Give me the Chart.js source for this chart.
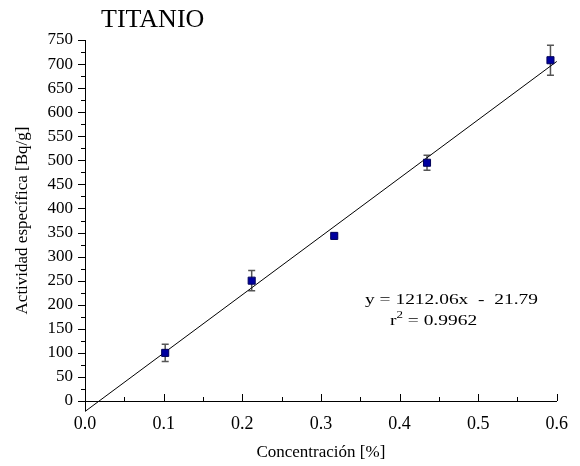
<!DOCTYPE html>
<html>
<head>
<meta charset="utf-8">
<script src="https://cdn.jsdelivr.net/npm/chart.js@4/dist/chart.umd.min.js"></script>
<style>
  html, body { margin: 0; padding: 0; background: #fff; }
  #c { display: block; }
</style>
</head>
<body>
<canvas id="c" width="580" height="466"></canvas>
<script>
// ---- data ----
const concentracion = [0.102, 0.212, 0.317, 0.435, 0.592];      // %
const actividad     = [100, 250, 343, 495, 708];                // Bq/g
const errorActividad = [18, 21, 3, 15.5, 31];                   // ± Bq/g
const ajusteX = [0, 0.6];                                       // fit line ends
const ajusteY = [-21.79, 705.45];                               // y = 1212.06x - 21.79
const xTicks = [0.0, 0.1, 0.2, 0.3, 0.4, 0.5, 0.6];
const yTicks = [0, 50, 100, 150, 200, 250, 300, 350, 400, 450, 500, 550, 600, 650, 700, 750];
const titulo = 'TITANIO';
const ecuacion = 'y = 1212.06x  -  21.79';
const r2Texto = ' = 0.9962';

const SERIF = "'Liberation Serif', serif";

const puntos = concentracion.map((x, i) => ({ x: x, y: actividad[i] }));
const ajuste = ajusteX.map((x, i) => ({ x: x, y: ajusteY[i] }));

const extras = {
  id: 'extras',
  beforeDatasetsDraw(chart) {
    const ctx = chart.ctx;
    const xs = chart.scales.x, ys = chart.scales.y;
    const bot = ys.getPixelForValue(0);
    const left = xs.getPixelForValue(0);
    ctx.save();
    ctx.strokeStyle = '#000';
    ctx.lineWidth = 1;
    // y ticks (outside, left): major every 50, minor every 25
    for (let v = 0; v <= 750; v += 25) {
      const y = Math.round(ys.getPixelForValue(v)) + 0.5;
      const len = (v % 50 === 0) ? 7 : 4;
      ctx.beginPath(); ctx.moveTo(left - len, y); ctx.lineTo(left, y); ctx.stroke();
    }
    // x ticks (inside, upward): major every 0.1, minor every 0.05
    for (let k = 0; k <= 12; k++) {
      const v = k * 0.05;
      const x = Math.round(xs.getPixelForValue(v)) + 0.5;
      const len = (k % 2 === 0) ? 7 : 4;
      ctx.beginPath(); ctx.moveTo(x, bot); ctx.lineTo(x, bot - len); ctx.stroke();
    }
    // small extension of the y axis below the x axis
    ctx.beginPath(); ctx.moveTo(Math.round(left) + 0.5, bot); ctx.lineTo(Math.round(left) + 0.5, bot + 10); ctx.stroke();

    // error bars
    ctx.strokeStyle = '#555';
    ctx.lineWidth = 1.5;
    concentracion.forEach((c, i) => {
      const x = xs.getPixelForValue(c);
      const y1 = ys.getPixelForValue(actividad[i] + errorActividad[i]);
      const y2 = ys.getPixelForValue(actividad[i] - errorActividad[i]);
      ctx.beginPath();
      ctx.moveTo(x, y1); ctx.lineTo(x, y2);
      ctx.moveTo(x - 3.5, y1); ctx.lineTo(x + 3.5, y1);
      ctx.moveTo(x - 3.5, y2); ctx.lineTo(x + 3.5, y2);
      ctx.stroke();
    });
    ctx.restore();
  },
  afterDraw(chart) {
    const ctx = chart.ctx;
    ctx.save();
    ctx.fillStyle = '#000';
    ctx.textBaseline = 'alphabetic';
    ctx.textAlign = 'left';
    // title
    ctx.font = '26px ' + SERIF;
    ctx.fillText(titulo, 101, 27);

    // equation (horizontally widened like the reference)
    ctx.font = '15px ' + SERIF;
    const w1 = ctx.measureText(ecuacion).width;
    const sx = 173 / w1;
    ctx.save();
    ctx.translate(365, 304);
    ctx.scale(sx, 1);
    ctx.fillText(ecuacion, 0, 0);
    ctx.restore();

    ctx.save();
    ctx.translate(390, 325);
    ctx.scale(sx, 1);
    ctx.fillText('r', 0, 0);
    const wr = ctx.measureText('r').width;
    ctx.font = '10px ' + SERIF;
    ctx.fillText('2', wr, -7);
    const w2 = ctx.measureText('2').width;
    ctx.font = '15px ' + SERIF;
    ctx.fillText(r2Texto, wr + w2, 0);
    ctx.restore();
    ctx.restore();
  }
};

new Chart(document.getElementById('c'), {
  type: 'scatter',
  data: {
    datasets: [
      {
        label: 'Actividad',
        data: puntos,
        pointStyle: 'rect',
        pointRadius: 5,
        pointHoverRadius: 5,
        backgroundColor: '#0000A0',
        borderColor: '#00005a',
        borderWidth: 1
      },
      {
        label: 'Ajuste',
        data: ajuste,
        showLine: true,
        borderColor: '#000',
        borderWidth: 1,
        pointRadius: 0,
        pointHoverRadius: 0,
        fill: false,
        clip: false
      }
    ]
  },
  options: {
    responsive: false,
    animation: false,
    devicePixelRatio: 1,
    layout: { padding: { top: 40, right: 20, left: 0, bottom: 0 } },
    plugins: {
      legend: { display: false },
      tooltip: { enabled: false },
      title: { display: false }
    },
    scales: {
      x: {
        type: 'linear',
        min: 0, max: 0.6,
        afterBuildTicks(s) { s.ticks = xTicks.map(v => ({ value: v })); },
        afterFit(s) { s.height = 65; },
        grid: { display: false, drawTicks: false },
        border: { display: true, color: '#000', width: 1 },
        ticks: {
          padding: 12,
          color: '#000',
          font: { family: SERIF, size: 18 },
          maxRotation: 0,
          callback: v => Number(v).toFixed(1)
        },
        title: {
          display: true,
          text: 'Concentración [%]',
          color: '#000',
          font: { family: SERIF, size: 17 },
          padding: { top: 0, bottom: 3 }
        }
      },
      y: {
        type: 'linear',
        min: 0, max: 750,
        afterBuildTicks(s) { s.ticks = yTicks.map(v => ({ value: v })); },
        afterFit(s) { s.width = 85; },
        grid: { display: false, drawTicks: false },
        border: { display: true, color: '#000', width: 1 },
        ticks: {
          padding: 12,
          color: '#000',
          font: { family: SERIF, size: 17 }
        },
        title: {
          display: true,
          text: 'Actividad específica [Bq/g]',
          color: '#000',
          font: { family: SERIF, size: 17 },
          padding: { top: 12, bottom: 0 }
        }
      }
    }
  },
  plugins: [extras]
});
</script>
</body>
</html>
